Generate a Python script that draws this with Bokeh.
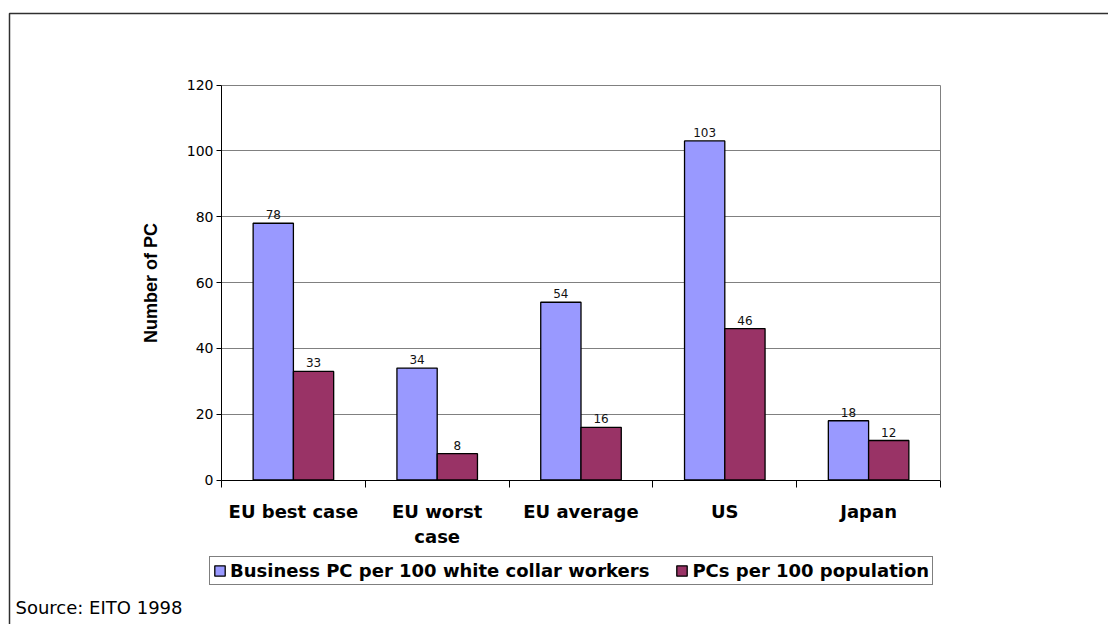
from bokeh.plotting import figure
from bokeh.models import (ColumnDataSource, FixedTicker, Legend, LegendItem, LabelSet,
                          Label, BoxAnnotation, Range1d, LinearAxis)
from bokeh.transform import dodge
from bokeh.core.properties import value
from bokeh.embed import file_html
from bokeh.resources import INLINE

# ---- data ----
categories = ["EU best case", "EU worst\ncase", "EU average", "US", "Japan"]
business_pc = [78, 34, 54, 103, 18]
pcs_population = [33, 8, 16, 46, 12]
y_ticks = [0, 20, 40, 60, 80, 100, 120]
series_names = ["Business PC per 100 white collar workers", "PCs per 100 population"]
series_colors = ["#9999FF", "#993366"]
y_title = "Number of PC"
source_note = "Source: EITO 1998"

FONT = "DejaVu Sans"          # wide sans, matches the stretched texts
FONT_V = "Liberation Sans"    # rotated axis title

# ---- layout (pixels) ----
W, H = 1108, 624
PL, PR, PT, PB = 221.0, 940.0, 84.5, 479.5   # plot area edges

n = len(categories)
ymax = max(y_ticks)
centers = [i + 0.5 for i in range(n)]
boundaries = [float(i) for i in range(n + 1)]

xs = (PR - PL) / n
ys = (PB - PT) / ymax
x_start, x_end = -PL / xs, n + (W - PR) / xs
y_start, y_end = -(H - PB) / ys, ymax + PT / ys

src = ColumnDataSource(dict(
    pos=centers,
    business=business_pc,
    population=pcs_population,
    business_txt=[str(v) for v in business_pc],
    population_txt=[str(v) for v in pcs_population],
))

p = figure(width=W, height=H, output_backend="svg", toolbar_location=None,
           x_range=Range1d(x_start, x_end), y_range=Range1d(y_start, y_end),
           min_border=0, background_fill_color="white", border_fill_color="white")
p.outline_line_color = None

bw = 0.28
off = 0.14
r1 = p.vbar(x=dodge("pos", -off, range=p.x_range), top="business", width=bw, source=src,
            fill_color=series_colors[0], line_color="black", line_width=1.3)
r2 = p.vbar(x=dodge("pos", off, range=p.x_range), top="population", width=bw, source=src,
            fill_color=series_colors[1], line_color="black", line_width=1.3)

# grid lines only across the plot area
g = p.ygrid[0]
g.ticker = FixedTicker(ticks=y_ticks)
g.grid_line_color = "#808080"
g.grid_line_width = 1
if "cross_bounds" in g.properties():
    g.cross_bounds = (0, n)
    g.bounds = (0, ymax)
p.xgrid.grid_line_color = None

# data labels
for field, txt, o in (("business", "business_txt", -off), ("population", "population_txt", off)):
    ls = LabelSet(x=dodge("pos", o, range=p.x_range), y=field, text=txt, source=src,
                  text_align="center", text_baseline="bottom", y_offset=4,
                  text_font=value(FONT), text_font_size="12px", text_color="#111111")
    p.add_layout(ls)

# x axis: labels at centers, ticks at boundaries
xa = p.xaxis[0]
xa.fixed_location = 0
xa.bounds = (0, n)
xa.ticker = FixedTicker(ticks=centers, minor_ticks=boundaries)
xa.major_label_overrides = {c: lab for c, lab in zip(centers, categories)}
xa.major_tick_line_color = None
xa.major_tick_out = 0
xa.major_tick_in = 0
xa.minor_tick_line_color = "black"
xa.minor_tick_out = 7
xa.minor_tick_in = 0
xa.axis_line_color = "black"
xa.major_label_text_font = FONT
xa.major_label_text_font_style = "bold"
xa.major_label_text_font_size = "18px"
xa.major_label_text_color = "black"
xa.major_label_standoff = 14

# y axis
ya = p.yaxis[0]
ya.fixed_location = 0
ya.bounds = (0, ymax)
ya.ticker = FixedTicker(ticks=y_ticks)
ya.minor_tick_line_color = None
ya.major_tick_out = 5
ya.major_tick_in = 0
ya.axis_line_color = "black"
ya.major_tick_line_color = "black"
ya.major_label_text_font = FONT
ya.major_label_text_font_size = "14px"
ya.major_label_text_color = "black"
ya.major_label_standoff = 3
ya.axis_label = y_title
ya.axis_label_text_font = FONT_V
ya.axis_label_text_font_style = "bold"
ya.axis_label_text_font_size = "18px"
ya.axis_label_text_color = "black"
ya.axis_label_standoff = 23

# right border of plot area (grey)
ra = LinearAxis(fixed_location=n, bounds=(0, ymax), ticker=FixedTicker(ticks=[]),
                axis_line_color="#808080", major_tick_line_color=None,
                minor_tick_line_color=None, major_label_text_alpha=0)
p.add_layout(ra, "right")

# legend
legend = Legend(items=[LegendItem(label=series_names[0], renderers=[r1]),
                       LegendItem(label=series_names[1], renderers=[r2])],
                location=(209, H - 585), orientation="horizontal",
                border_line_color="black", border_line_width=1,
                background_fill_color="white", background_fill_alpha=1,
                padding=3, spacing=26, margin=0,
                glyph_width=13, glyph_height=13, label_standoff=4,
                label_height=18,
                label_text_font=FONT, label_text_font_style="bold",
                label_text_font_size="18px", label_text_color="black")
p.add_layout(legend)

# outer frame (left and top lines)
frame_box = BoxAnnotation(left=9, right=W + 100, top=H - 13, bottom=-100,
                          left_units="screen", right_units="screen",
                          top_units="screen", bottom_units="screen",
                          fill_alpha=0, line_alpha=1, line_color="#303030", line_width=1.5)
p.add_layout(frame_box)

# source note
p.add_layout(Label(x=15, y=H - 607, x_units="screen", y_units="screen", text=source_note,
                   text_font=FONT, text_font_size="18px", text_color="black",
                   text_baseline="middle", text_align="left"))

open("out.html", "w").write(file_html(p, INLINE))
